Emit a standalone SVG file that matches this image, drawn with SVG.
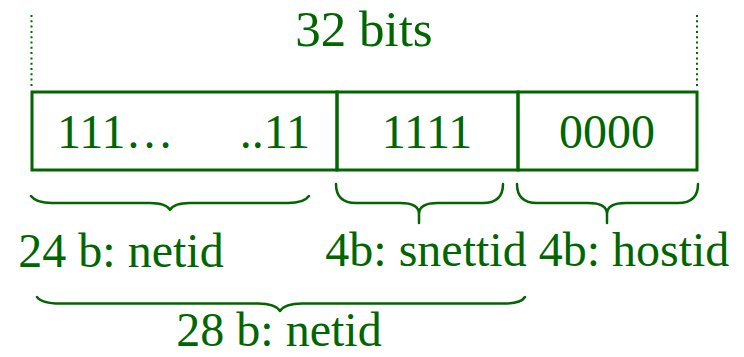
<svg xmlns="http://www.w3.org/2000/svg" width="744" height="357" viewBox="0 0 744 357">
<style>
.t{font-family:"Liberation Serif","Times New Roman",serif;fill:#006600;font-size:48px}
.ln{fill:none;stroke:#006600;stroke-width:3}
.br{fill:none;stroke:#006600;stroke-width:2.5;stroke-linecap:round;stroke-linejoin:round}
.dot{fill:none;stroke:#006600;stroke-width:2;stroke-dasharray:2 3.3}
</style>
<rect width="744" height="357" fill="#ffffff"/>
<g id="width-marker">
<line class="dot" x1="31.5" y1="15" x2="31.5" y2="89"/>
<line class="dot" x1="697" y1="15" x2="697" y2="89"/>
<text class="t" x="364" y="46" text-anchor="middle" style="font-size:51px">32 bits</text>
</g>
<g id="field-netid">
<rect class="ln" x="32" y="92" width="305" height="78"/>
<text class="t" x="57" y="148">111…</text>
<text class="t" x="310" y="148" text-anchor="end">..11</text>
</g>
<g id="field-snettid">
<rect class="ln" x="337" y="92" width="181" height="78"/>
<text class="t" x="427" y="148" text-anchor="middle">1111</text>
</g>
<g id="field-hostid">
<rect class="ln" x="518" y="92" width="179" height="78"/>
<text class="t" x="607" y="148" text-anchor="middle">0000</text>
</g>
<g id="braces">
<path class="br" d="M31,196 Q36,203 52,203 L150,203 Q166,203 170,210 Q174,203 190,203 L288,203 Q304,203 309,196"/>
<path class="br" d="M336,184 Q336,203 356,203 L400,203 Q419,203 419,214 L419,223 M419,214 Q419,203 438,203 L483,203 Q503,203 503,184"/>
<path class="br" d="M517,184 Q517,203 537,203 L588,203 Q607,203 607,214 L607,223 M607,214 Q607,203 626,203 L678,203 Q698,203 698,184"/>
<path class="br" d="M37,297 Q42,303.5 60,303.5 L258,303.5 Q275,303.5 280,311 Q285,303.5 302,303.5 L504,303.5 Q521,303.5 525,297"/>
</g>
<g id="labels">
<text class="t" x="121" y="267" text-anchor="middle">24 b: netid</text>
<text class="t" x="426" y="266" text-anchor="middle">4b: snettid</text>
<text class="t" x="634" y="266" text-anchor="middle">4b: hostid</text>
<text class="t" x="279" y="346" text-anchor="middle">28 b: netid</text>
</g>
</svg>
